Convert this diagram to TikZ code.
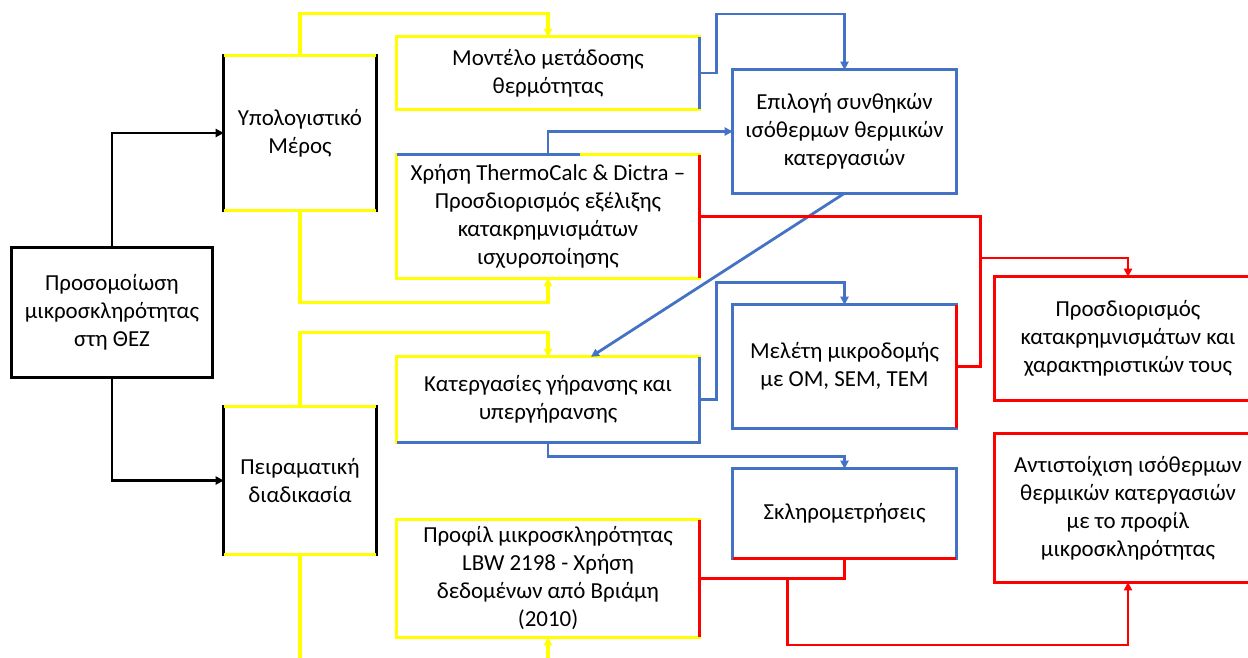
\documentclass[tikz,border=0pt]{standalone}
\usepackage{fontspec}
\setmainfont{Carlito}
\usetikzlibrary{arrows.meta,calc}

\definecolor{wordyellow}{RGB}{255,255,0}
\definecolor{wordblue}{RGB}{68,114,196}
\definecolor{wordred}{RGB}{255,0,0}

\tikzset{
    txt/.style={inner sep=0pt, align=center, font=\fontsize{17.2}{21}\selectfont},
    edgek/.style={line width=2.4pt, black},
    edgey/.style={line width=2.4pt, wordyellow},
    edgeb/.style={line width=2.4pt, wordblue},
    edger/.style={line width=2.4pt, wordred},
    kline/.style={line width=2.1pt, black, -{Triangle[length=6pt,width=6pt]}},
    yline/.style={line width=2.3pt, wordyellow, -{Triangle[length=6pt,width=6pt]}},
    bline/.style={line width=2.1pt, wordblue, -{Triangle[length=6pt,width=6pt]}},
    rline/.style={line width=2.1pt, wordred, -{Triangle[length=6pt,width=6pt]}}
}

\begin{document}
\begin{tikzpicture}[x=0.75pt, y=-0.75pt]
    % Frame of the page, measured in pixels of the original
    \useasboundingbox (0,0) rectangle (1248,657);
    \clip (0,0) rectangle (1248,657);

    % The boxes, placed at their centres
    \node[txt, minimum width=150pt, minimum height=96.75pt] (sim) at (112,312.5)
        {Προσομοίωση\\μικροσκληρότητας\\στη ΘΕΖ};
    \node[txt, minimum width=114pt, minimum height=115.5pt] (comp) at (300,133)
        {Υπολογιστικό\\Μέρος};
    \node[txt, minimum width=114pt, minimum height=110.25pt] (exper) at (300,480.5)
        {Πειραματική\\διαδικασία};
    \node[txt, minimum width=226.5pt, minimum height=54pt] (model) at (548,73)
        {Μοντέλο μετάδοσης\\θερμότητας};
    \node[txt, minimum width=226.5pt, minimum height=92.25pt] (thermo) at (548,216.5)
        {Χρήση ThermoCalc \& Dictra –\\Προσδιορισμός εξέλιξης\\κατακρημνισμάτων\\ισχυροποίησης};
    \node[txt, minimum width=226.5pt, minimum height=63.75pt] (aging) at (548,399.5)
        {Κατεργασίες γήρανσης και\\υπεργήρανσης};
    \node[txt, minimum width=226.5pt, minimum height=87.75pt] (profile) at (548,578.5)
        {Προφίλ μικροσκληρότητας\\LBW 2198 - Χρήση\\δεδομένων από Βριάμη\\(2010)};
    \node[txt, minimum width=167.25pt, minimum height=92.25pt] (select) at (844.5,131.5)
        {Επιλογή συνθηκών\\ισόθερμων θερμικών\\κατεργασιών};
    \node[txt, minimum width=167.25pt, minimum height=92.25pt] (micro) at (844.5,366.5)
        {Μελέτη μικροδομής\\με OM, SEM, TEM};
    \node[txt, minimum width=167.25pt, minimum height=66.75pt] (hard) at (844.5,513.5)
        {Σκληρομετρήσεις};
    \node[txt, minimum width=199.5pt, minimum height=92.25pt] (precip) at (1128,338.5)
        {Προσδιορισμός\\κατακρημνισμάτων και\\χαρακτηριστικών τους};
    \node[txt, minimum width=199.5pt, minimum height=111pt] (match) at (1128,508)
        {Αντιστοίχιση ισόθερμων\\θερμικών κατεργασιών\\με το προφίλ\\μικροσκληρότητας};

    % Borders, with the sides that take the colour of their line
    \draw[edgek] (sim.north west) rectangle (sim.south east);
    \draw[edgek] (comp.north west) rectangle (comp.south east);
    \draw[edgey] (comp.north west) -- (comp.north east) (comp.south west) -- (comp.south east);
    \draw[edgek] (exper.north west) rectangle (exper.south east);
    \draw[edgey] (exper.north west) -- (exper.north east) (exper.south west) -- (exper.south east);
    \draw[edgey] (model.north west) rectangle (model.south east);
    \draw[edgeb] (model.north east) -- (model.south east);
    \draw[edgey] (thermo.north west) rectangle (thermo.south east);
    \draw[edgeb] (thermo.north west) -- ($(thermo.north)+(32,0)$);
    \draw[edger] (thermo.north east) -- (thermo.south east);
    \draw[edgey] (aging.north west) rectangle (aging.south east);
    \draw[edgeb] (aging.north east) -- (aging.south east) -- (aging.south west);
    \draw[edgey] (profile.north west) rectangle (profile.south east);
    \draw[edger] (profile.north east) -- (profile.south east);
    \draw[edgeb] (select.north west) rectangle (select.south east);
    \draw[edgeb] (micro.north west) rectangle (micro.south east);
    \draw[edger] (micro.north east) -- (micro.south east);
    \draw[edgeb] (hard.north west) rectangle (hard.south east);
    \draw[edger] (hard.south west) -- (hard.south east);
    \draw[edger] (precip.north west) rectangle (precip.south east);
    \draw[edger] (match.north west) rectangle (match.south east);

    % Black links from the main box
    \draw[kline] (sim.north) |- (comp.west);
    \draw[kline] (sim.south) |- (exper.west);

    % Yellow links
    \draw[yline] (comp.north) -- ++(0,-42) -| (model.north);
    \draw[yline] (comp.south) -- ++(0,92) -| (thermo.south);
    \draw[yline] (exper.north) -- ++(0,-74) -| (aging.north);
    \draw[yline] (exper.south) -- ++(0,130) -| (profile.south);

    % Blue links
    \draw[bline] (model.east) -- ++(17,0) -- ++(0,-59) -| (select.north);
    \draw[bline] (thermo.north) |- (select.west);
    \draw[bline] (select.south) -- ($(aging.north)+(43,0)$);
    \draw[bline] (aging.east) -- ++(17,0) -- ++(0,-117) -| (micro.north);
    \draw[bline] (aging.south) -- ++(0,14) -| (hard.north);

    % Red links
    \coordinate (split) at ($(thermo.east)+(281,41.5)$);
    \draw[rline, -] (thermo.east) -- ++(281,0) |- (micro.east);
    \draw[rline] (split) -| (precip.north);
    \draw[rline, -] (hard.south) |- (profile.east);
    \draw[rline] ($(profile.east)+(88,0)$) -- ++(0,66.5) -| (match.south);

\end{tikzpicture}
\end{document}
